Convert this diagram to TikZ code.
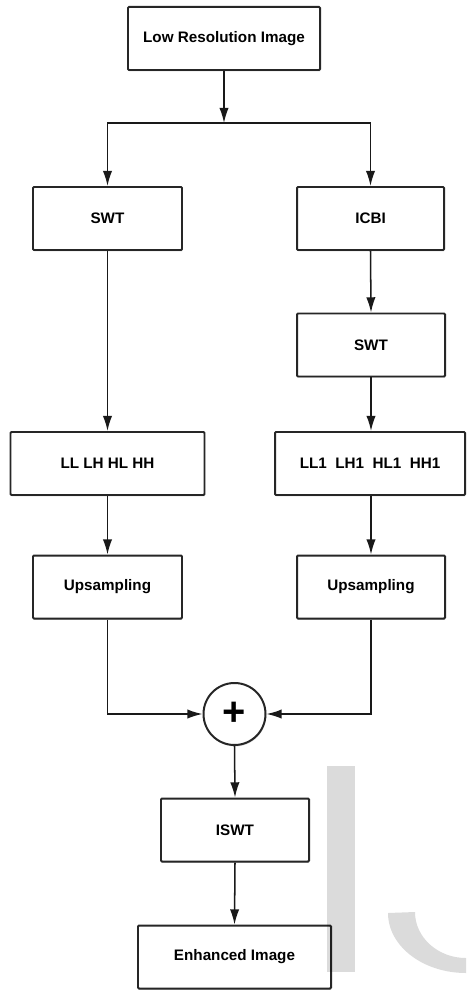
\documentclass[tikz,border=0pt]{standalone}
\usepackage{fontspec}
\setmainfont{Liberation Sans}
\usetikzlibrary{arrows.meta}
\usetikzlibrary{shadows}
\def\px{0.03cm} % one pixel of the original picture
\tikzstyle{stagebox}=[draw=black!85, line width=1.7pt, fill=white, rounded corners=0.8pt, minimum height=63*\px, inner sep=0pt, font=\fontsize{13}{15}\selectfont\bfseries, drop shadow={opacity=0.3,shadow xshift=0.6pt,shadow yshift=-1.2pt}]
\tikzstyle{sumnode}=[circle, draw=black!85, line width=1.7pt, fill=white, minimum size=62*\px, inner sep=0pt, font=\fontsize{34}{34}\selectfont\bfseries, drop shadow={opacity=0.3,shadow xshift=0.6pt,shadow yshift=-1.2pt}]
\tikzstyle{connector}=[black!90, line width=1.3pt, -{Latex[length=13pt,width=8pt]}]
\tikzstyle{plainline}=[black!90, line width=1.3pt]
\tikzstyle{watermark}=[fill=black, fill opacity=0.14, draw=none]
\newcommand{\newstage}[5]{% Syntax: {name}{x}{y}{width}{text}, positions in pixels
\node[stagebox, minimum width=#4*\px] (#1) at (#2,#3) {#5};
}

\begin{document}
\begin{tikzpicture}[x=\px, y=-\px]
  \useasboundingbox (0,0) rectangle (466,991);
  \newstage{lowres}{224}{38.5}{192}{Low Resolution Image}
  \newstage{swtleft}{107.5}{218.5}{149}{SWT}
  \newstage{icbi}{370.5}{218.5}{147}{ICBI}
  \newstage{swtright}{371}{345}{148}{SWT}
  \newstage{bandsleft}{107.5}{463.5}{194}{LL LH HL HH}
  \newstage{bandsright}{370}{463.5}{190}{LL1\ \ LH1\ \ HL1\ \ HH1}
  \newstage{upleft}{107.5}{587}{149}{Upsampling}
  \newstage{upright}{371}{587}{148}{Upsampling}
  \node[sumnode] (sum) at (234.5,714) {+};
  \newstage{iswt}{235}{830}{148}{ISWT}
  \newstage{enhanced}{234.5}{957}{193}{Enhanced Image}
  \coordinate (split) at (224,123);
  \draw[connector] (lowres.south) -- (split);
  \draw[connector] (split) -| (swtleft.north);
  \draw[connector] (split) -| (icbi.north);
  \draw[connector] (swtleft.south) -- (bandsleft.north);
  \draw[connector] (icbi.south) -- (swtright.north);
  \draw[connector] (swtright.south) -- (bandsright.north -| swtright.south);
  \draw[connector] (bandsleft.south) -- (upleft.north);
  \draw[connector] (bandsright.south -| upright.north) -- (upright.north);
  \draw[connector] (upleft.south) |- (sum.west);
  \draw[connector] (upright.south) |- (sum.east);
  \draw[connector] (sum.south) -- (iswt.north);
  \draw[connector] (iswt.south) -- (enhanced.north);
  %\draw[plainline] (0,0) grid[step=50] (466,991); % use this to debug
  % faint letters in the corner
  \fill[watermark] (327,766) rectangle (355,972);
  \fill[watermark] (388,913) arc (180:90:78 and 60) -- (466,958) arc (90:180:51 and 46) -- cycle;
\end{tikzpicture}
\end{document}
